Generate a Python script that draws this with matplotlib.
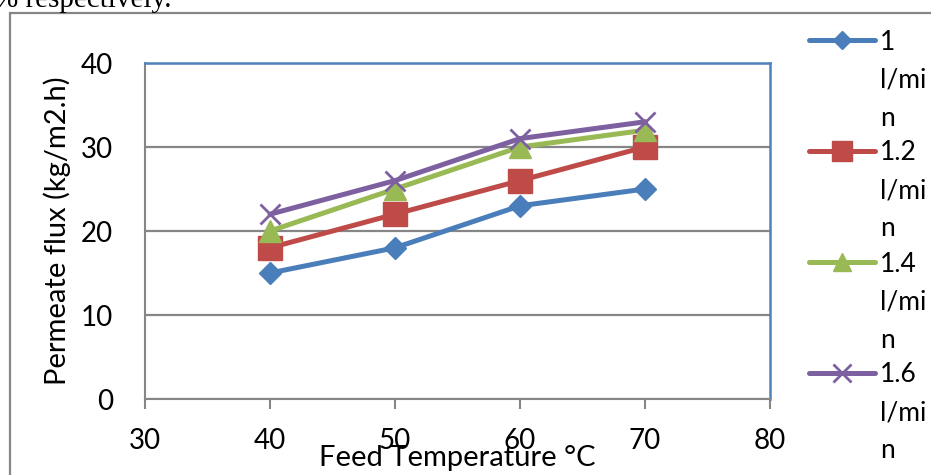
import matplotlib
matplotlib.use("Agg")
import matplotlib.pyplot as plt
from matplotlib.patches import Rectangle
from matplotlib.lines import Line2D

# ---- data ----
temperatures = [40, 50, 60, 70]
flux_1_0 = [15, 18, 23, 25]
flux_1_2 = [18, 22, 26, 30]
flux_1_4 = [20, 25, 30, 32]
flux_1_6 = [22, 26, 31, 33]
series_labels = ["1\nl/mi\nn", "1.2\nl/mi\nn", "1.4\nl/mi\nn", "1.6\nl/mi\nn"]
x_ticks = [30, 40, 50, 60, 70, 80]
y_ticks = [0, 10, 20, 30, 40]

series = [flux_1_0, flux_1_2, flux_1_4, flux_1_6]
colors = ["#4A7EBB", "#BE4B48", "#98B954", "#7D60A0"]
markers = ["D", "s", "^", "x"]
msizes = [11, 17, 16, 15]
GRAY = "#868686"
FONT = "Lato"

W, H = 931, 475
fig = plt.figure(figsize=(W / 100, H / 100), dpi=100)
fig.patch.set_facecolor("white")

# outer chart border (cropped at right/bottom)
fig.patches.append(Rectangle((10 / W, -0.1), 1.2, (H - 13) / H + 0.1,
                             transform=fig.transFigure, fill=False,
                             edgecolor=GRAY, linewidth=1.6, clip_on=False))
# cropped caption text from the page above
fig.text(-6 / W, 1 - 7 / H, "% respectively.", family="Liberation Serif",
         fontsize=21, va="baseline", ha="left", color="black")

ax = fig.add_axes([145 / W, 76 / H, 625 / W, 336 / H])
for vals, c, m, ms in zip(series, colors, markers, msizes):
    ax.plot(temperatures, vals, color=c, linewidth=3.6, marker=m,
            markersize=ms, markeredgecolor=c, markerfacecolor=c,
            markeredgewidth=2.0 if m == "x" else 1.0, solid_capstyle="round",
            zorder=3)

ax.set_xlim(30, 80)
ax.set_ylim(0, 40)
ax.set_xticks(x_ticks)
ax.set_yticks(y_ticks)
ax.set_xticklabels([str(v) for v in x_ticks], family=FONT, fontsize=20)
ax.set_yticklabels([str(v) for v in y_ticks], family=FONT, fontsize=20)
ax.tick_params(axis="y", length=0, pad=23)
ax.tick_params(axis="x", length=7, width=1.5, color=GRAY, direction="out", pad=14)
for s in ["left", "bottom"]:
    ax.spines[s].set_color(GRAY)
    ax.spines[s].set_linewidth(1.5)
for s in ["top", "right"]:
    ax.spines[s].set_color("#4F81BD")
    ax.spines[s].set_linewidth(1.8)
ax.grid(axis="y", color=GRAY, linewidth=1.6)
ax.set_axisbelow(True)

ax.set_ylabel("Permeate flux (kg/m2.h)", family=FONT, fontsize=21)
ax.yaxis.set_label_coords(-0.118, 0.5)
ax.set_xlabel("Feed Temperature \u00b0C", family=FONT, fontsize=21)
ax.xaxis.set_label_coords(0.5, -0.138)

# legend drawn in its own pixel-based axes
lax = fig.add_axes([0, 0, 1, 1], facecolor="none")
lax.set_xlim(0, W)
lax.set_ylim(H, 0)
lax.axis("off")
entry_y = [40, 151, 262, 373]
for y0, lab, c, m, ms in zip(entry_y, series_labels, colors, markers, msizes):
    lax.add_line(Line2D([809, 875], [y0, y0], color=c, linewidth=3.6,
                        solid_capstyle="round"))
    lax.add_line(Line2D([842], [y0], color=c, marker=m, markersize=ms * 0.85,
                        markerfacecolor=c, markeredgecolor=c,
                        markeredgewidth=2.0 if m == "x" else 1.0))
    for i, line in enumerate(lab.split("\n")):
        lax.text(880, y0 + 2 + i * 38, line, family=FONT, fontsize=19,
                 va="center", ha="left", clip_on=False)

fig.savefig("out.png", dpi=100)
